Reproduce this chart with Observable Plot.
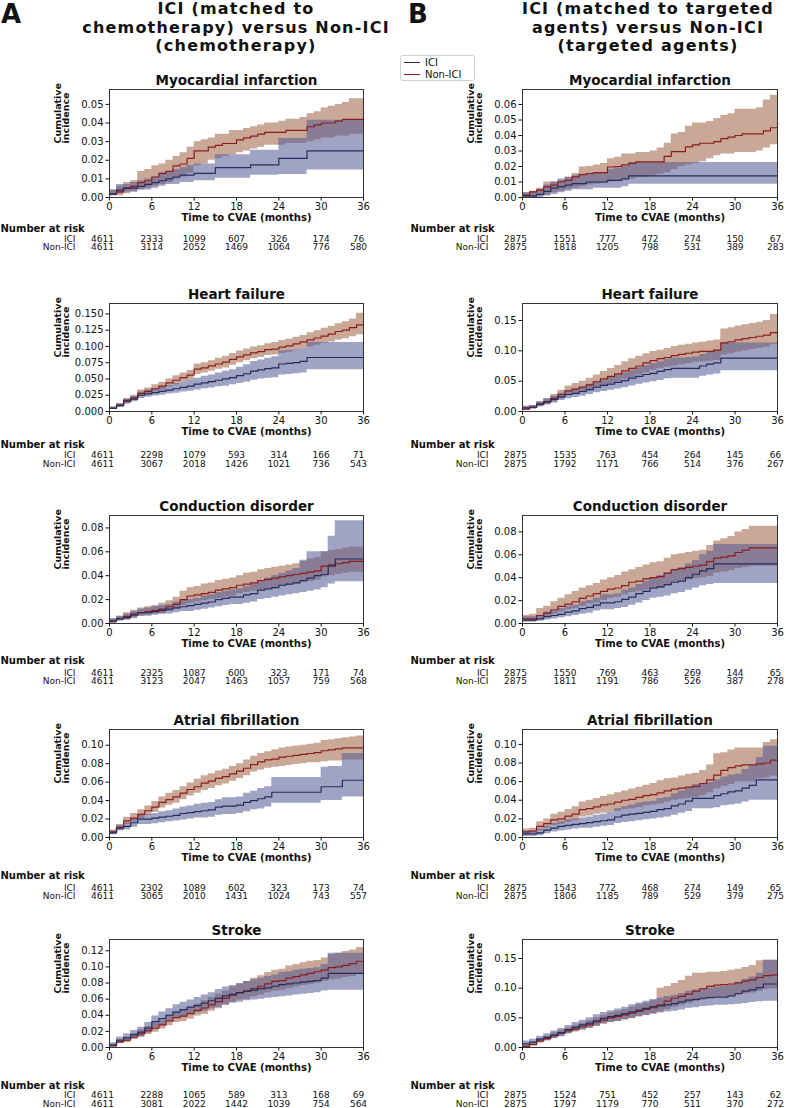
<!DOCTYPE html>
<html><head><meta charset="utf-8">
<script src="https://cdn.jsdelivr.net/npm/d3@7"></script>
<script src="https://cdn.jsdelivr.net/npm/@observablehq/plot@0.6"></script>
<style>
body{margin:0;background:#fff;font-family:"DejaVu Sans",sans-serif;color:#111;}
#root{position:relative;width:786px;height:1108px;overflow:hidden;}
.panel{position:absolute;}
.letter{position:absolute;font-weight:bold;font-size:26px;line-height:28px;}
.tline{position:absolute;font-weight:bold;font-size:16px;letter-spacing:1.2px;line-height:18px;height:18px;text-align:center;width:440px;white-space:nowrap;}
.legend{position:absolute;left:400px;top:55px;width:75px;height:26px;border:1px solid #d0d0d0;border-radius:3px;box-sizing:border-box;}
.legend .lab{position:absolute;left:24px;font-size:10px;line-height:12px;height:12px;white-space:nowrap;}
.legend .sw{position:absolute;left:3px;width:16px;height:0;border-top:1.5px solid;}
</style></head>
<body><div id="root"></div>
<script>
const MONTHS = [0,1,2,3,4,5,6,7,8,9,10,11,12,13,14,15,16,17,18,19,20,21,22,23,24,25,26,27,28,29,30,31,32,33,34,35,36];
const X_TICKS = [0,6,12,18,24,30,36];
const OUTCOMES = ["Myocardial infarction","Heart failure","Conduction disorder","Atrial fibrillation","Stroke"];
const SERIES = ["ICI","Non-ICI"];

// ---- A: Myocardial infarction ----
const A_MI_NON    = [.002,.003,.005,.006,.008,.009,.011,.013,.014,.017,.018,.021,.025,.025,.027,.028,.029,.029,.031,.032,.033,.034,.035,.035,.035,.036,.036,.036,.038,.039,.040,.040,.041,.042,.042,.042,.042];
const A_MI_NON_HI = [.004,.006,.008,.009,.014,.015,.017,.018,.020,.022,.024,.027,.030,.031,.032,.034,.034,.036,.036,.037,.038,.039,.040,.040,.041,.042,.042,.043,.045,.046,.048,.049,.050,.051,.053,.053,.053];
const A_MI_NON_LO = [.001,.001,.002,.003,.004,.005,.006,.007,.008,.010,.011,.013,.017,.018,.020,.021,.022,.023,.024,.025,.026,.027,.028,.028,.028,.029,.029,.029,.030,.031,.032,.032,.033,.033,.034,.034,.034];
const A_MI_ICI    = [.002,.004,.005,.005,.006,.007,.008,.009,.010,.011,.012,.012,.013,.013,.013,.016,.016,.016,.016,.016,.0175,.0175,.0175,.0175,.021,.021,.021,.021,.025,.025,.025,.025,.025,.025,.025,.025,.025];
const A_MI_ICI_HI = [.004,.007,.007,.008,.009,.010,.011,.013,.014,.015,.016,.017,.018,.018,.018,.023,.023,.023,.023,.023,.0254,.0254,.0254,.0254,.0317,.0317,.0317,.0317,.0415,.0415,.0415,.0415,.0415,.0415,.0415,.0415,.0415];
const A_MI_ICI_LO = [.001,.002,.003,.003,.004,.004,.005,.006,.007,.007,.008,.008,.009,.009,.009,.0103,.0103,.0103,.0103,.0103,.012,.012,.012,.012,.0124,.0124,.0124,.0124,.0148,.0148,.0148,.0148,.0148,.0148,.0148,.0148,.0148];
const A_MI_RISK_ICI = [4611,2333,1099,607,326,174,76];
const A_MI_RISK_NON = [4611,3114,2052,1469,1064,776,580];
const A_MI_YTICKS = [0,.01,.02,.03,.04,.05];

// ---- B: Myocardial infarction ----
const B_MI_NON    = [.0015,.0036,.0047,.0068,.008,.010,.011,.0133,.0148,.0155,.016,.016,.0197,.020,.021,.022,.023,.023,.023,.023,.0265,.0296,.0296,.0327,.034,.035,.035,.036,.038,.039,.040,.041,.041,.041,.043,.045,.048];
const B_MI_NON_HI = [.003,.004,.006,.010,.010,.011,.013,.0155,.0197,.020,.021,.022,.025,.026,.028,.028,.029,.029,.030,.032,.035,.041,.042,.046,.048,.048,.049,.051,.053,.054,.057,.057,.057,.058,.063,.066,.066];
const B_MI_NON_LO = [0,0,.001,.0015,.003,.004,.005,.006,.007,.008,.0085,.009,.010,.011,.012,.012,.013,.013,.014,.015,.016,.018,.020,.021,.022,.023,.025,.027,.028,.028,.029,.029,.029,.030,.032,.034,.034];
const B_MI_ICI    = [.001,.001,.002,.004,.006,.007,.008,.009,.009,.010,.010,.010,.011,.011,.012,.014,.014,.014,.014,.014,.014,.014,.014,.014,.014,.014,.014,.014,.014,.014,.014,.014,.014,.014,.014,.014,.014];
const B_MI_ICI_HI = [.003,.003,.005,.008,.010,.012,.013,.014,.015,.015,.016,.016,.018,.019,.020,.0226,.0226,.0226,.0226,.0226,.0226,.0226,.0226,.0226,.0226,.0226,.0226,.0226,.0226,.0226,.0226,.0226,.0226,.0226,.0226,.0226,.0226];
const B_MI_ICI_LO = [0,0,0,.001,.002,.003,.004,.005,.005,.005,.006,.006,.006,.006,.007,.0086,.0086,.0086,.0086,.0086,.0086,.0086,.0086,.0086,.0086,.0086,.0086,.0086,.0086,.0086,.0086,.0086,.0086,.0086,.0086,.0086,.0086];
const B_MI_RISK_ICI = [2875,1551,777,472,274,150,67];
const B_MI_RISK_NON = [2875,1818,1205,798,531,389,283];
const B_MI_YTICKS = [0,.01,.02,.03,.04,.05,.06];

// ---- A: Heart failure ----
const A_HF_NON    = [.005,.010,.017,.021,.028,.031,.035,.039,.044,.048,.052,.056,.065,.067,.070,.073,.076,.080,.084,.087,.090,.092,.095,.096,.099,.101,.104,.107,.110,.113,.116,.119,.123,.125,.129,.133,.133];
const A_HF_NON_HI = [.007,.012,.020,.025,.033,.036,.041,.045,.050,.055,.059,.063,.073,.075,.078,.082,.085,.089,.093,.096,.099,.101,.104,.106,.109,.111,.114,.117,.121,.124,.128,.131,.135,.138,.142,.151,.151];
const A_HF_NON_LO = [.003,.008,.014,.017,.023,.026,.030,.033,.038,.041,.045,.048,.057,.059,.062,.065,.067,.071,.075,.078,.081,.083,.086,.087,.089,.091,.094,.097,.099,.102,.105,.107,.110,.112,.115,.118,.118];
const A_HF_ICI    = [.005,.009,.015,.019,.025,.027,.029,.031,.033,.035,.037,.039,.042,.044,.046,.048,.050,.052,.055,.058,.062,.064,.066,.067,.073,.074,.075,.077,.083,.083,.083,.083,.083,.083,.083,.083,.083];
const A_HF_ICI_HI = [.007,.012,.019,.023,.030,.033,.035,.038,.040,.043,.045,.048,.051,.054,.056,.059,.062,.064,.068,.072,.077,.079,.082,.084,.093,.094,.095,.097,.106,.106,.106,.106,.106,.106,.106,.106,.106];
const A_HF_ICI_LO = [.003,.006,.011,.015,.020,.022,.024,.025,.027,.028,.030,.031,.033,.035,.036,.038,.039,.041,.043,.045,.048,.050,.051,.052,.056,.057,.058,.059,.064,.064,.064,.064,.064,.064,.064,.064,.064];
const A_HF_RISK_ICI = [4611,2298,1079,593,314,166,71];
const A_HF_RISK_NON = [4611,3067,2018,1426,1021,736,543];
const A_HF_YTICKS = [0,.025,.05,.075,.1,.125,.15];

// ---- B: Heart failure ----
const B_HF_NON    = [.004,.007,.012,.016,.022,.028,.034,.037,.040,.044,.049,.054,.058,.062,.067,.071,.075,.080,.084,.087,.089,.092,.094,.096,.098,.099,.099,.101,.113,.115,.118,.120,.122,.124,.126,.130,.133];
const B_HF_NON_HI = [.007,.010,.016,.021,.028,.035,.042,.046,.050,.055,.060,.066,.071,.076,.082,.087,.091,.095,.099,.101,.104,.107,.109,.111,.113,.114,.116,.118,.136,.138,.141,.143,.145,.147,.150,.160,.160];
const B_HF_NON_LO = [.002,.004,.008,.011,.016,.021,.026,.029,.031,.034,.038,.042,.046,.049,.053,.056,.060,.064,.068,.071,.073,.075,.077,.079,.081,.082,.083,.084,.093,.095,.098,.100,.102,.104,.106,.110,.113];
const B_HF_ICI    = [.006,.007,.012,.016,.020,.024,.028,.030,.033,.036,.040,.043,.045,.048,.051,.055,.058,.061,.063,.066,.069,.071,.071,.071,.071,.075,.078,.080,.088,.088,.088,.088,.088,.088,.088,.088,.088];
const B_HF_ICI_HI = [.009,.010,.016,.021,.025,.030,.034,.037,.041,.045,.049,.053,.056,.060,.064,.068,.072,.076,.079,.082,.086,.088,.088,.089,.090,.094,.098,.101,.113,.113,.113,.113,.113,.113,.113,.113,.113];
const B_HF_ICI_LO = [.003,.004,.008,.011,.014,.018,.021,.023,.025,.028,.031,.033,.035,.037,.039,.042,.045,.047,.049,.051,.054,.055,.055,.055,.055,.058,.060,.062,.067,.067,.067,.067,.067,.067,.067,.067,.067];
const B_HF_RISK_ICI = [2875,1535,763,454,264,145,66];
const B_HF_RISK_NON = [2875,1792,1171,766,514,376,267];
const B_HF_YTICKS = [0,.05,.1,.15];

// ---- A: Conduction disorder ----
const A_CD_NON    = [.002,.004,.006,.008,.009,.010,.011,.012,.014,.016,.020,.023,.024,.025,.026,.028,.029,.030,.032,.033,.034,.036,.037,.038,.039,.040,.041,.042,.043,.044,.048,.049,.050,.051,.052,.052,.052];
const A_CD_NON_HI = [.004,.006,.009,.011,.013,.014,.015,.017,.019,.022,.027,.030,.031,.033,.034,.036,.037,.038,.040,.042,.043,.045,.046,.047,.048,.049,.050,.052,.054,.055,.060,.061,.062,.063,.064,.064,.064];
const A_CD_NON_LO = [.001,.002,.003,.005,.006,.007,.008,.008,.010,.012,.015,.017,.018,.019,.020,.021,.022,.023,.025,.026,.027,.028,.029,.030,.031,.032,.033,.034,.035,.036,.039,.040,.041,.042,.043,.043,.043];
const A_CD_ICI    = [.002,.004,.005,.007,.009,.009,.010,.011,.012,.013,.014,.015,.016,.017,.018,.020,.021,.022,.022,.024,.025,.028,.029,.030,.032,.033,.034,.036,.038,.040,.041,.048,.054,.054,.054,.054,.054];
const A_CD_ICI_HI = [.004,.006,.008,.010,.012,.013,.014,.015,.016,.018,.019,.020,.021,.023,.024,.026,.027,.028,.029,.031,.033,.036,.038,.040,.042,.044,.046,.053,.060,.060,.060,.073,.086,.086,.086,.086,.086];
const A_CD_ICI_LO = [0,.002,.003,.004,.006,.006,.007,.008,.008,.009,.010,.010,.011,.012,.013,.014,.015,.016,.016,.017,.018,.020,.021,.022,.023,.024,.025,.026,.027,.028,.030,.033,.035,.035,.035,.035,.035];
const A_CD_RISK_ICI = [4611,2325,1087,600,323,171,74];
const A_CD_RISK_NON = [4611,3123,2047,1463,1057,759,568];
const A_CD_YTICKS = [0,.02,.04,.06,.08];

// ---- B: Conduction disorder ----
const B_CD_NON    = [.004,.004,.007,.009,.012,.015,.017,.019,.022,.024,.026,.028,.030,.031,.033,.036,.037,.039,.040,.041,.044,.047,.048,.049,.050,.051,.054,.057,.058,.059,.062,.064,.066,.066,.066,.066,.066];
const B_CD_NON_HI = [.007,.008,.013,.015,.019,.022,.025,.028,.031,.033,.035,.038,.040,.042,.045,.047,.049,.051,.053,.054,.057,.060,.061,.062,.063,.064,.068,.072,.074,.076,.080,.082,.085,.085,.085,.085,.085];
const B_CD_NON_LO = [.002,.002,.004,.006,.008,.010,.012,.013,.015,.017,.018,.020,.022,.023,.025,.027,.028,.029,.030,.031,.033,.036,.037,.038,.039,.040,.041,.044,.045,.046,.048,.049,.050,.050,.050,.050,.050];
const B_CD_ICI    = [.003,.003,.004,.006,.007,.008,.010,.011,.013,.014,.016,.018,.018,.019,.021,.023,.026,.028,.031,.032,.034,.036,.037,.040,.043,.046,.048,.052,.052,.052,.052,.052,.052,.052,.052,.052,.052];
const B_CD_ICI_HI = [.006,.006,.007,.010,.011,.013,.015,.016,.019,.020,.022,.025,.025,.026,.029,.031,.034,.037,.040,.042,.044,.047,.049,.052,.055,.060,.063,.069,.069,.069,.069,.069,.069,.069,.069,.069,.069];
const B_CD_ICI_LO = [.001,.001,.002,.003,.004,.005,.006,.007,.008,.009,.011,.012,.012,.013,.014,.016,.018,.020,.022,.023,.024,.026,.027,.029,.031,.033,.034,.035,.035,.035,.035,.035,.035,.035,.035,.035,.035];
const B_CD_RISK_ICI = [2875,1550,769,463,269,144,65];
const B_CD_RISK_NON = [2875,1811,1191,786,526,387,278];
const B_CD_YTICKS = [0,.02,.04,.06,.08];

// ---- A: Atrial fibrillation ----
const A_AF_NON    = [.006,.011,.018,.021,.025,.029,.033,.038,.041,.044,.048,.052,.055,.059,.061,.064,.066,.069,.072,.075,.079,.082,.084,.085,.087,.088,.089,.090,.091,.092,.094,.095,.096,.097,.097,.097,.097];
const A_AF_NON_HI = [.008,.014,.022,.026,.030,.034,.039,.044,.048,.051,.055,.059,.063,.067,.069,.072,.074,.077,.080,.084,.088,.091,.093,.095,.097,.098,.099,.100,.101,.102,.105,.106,.107,.108,.109,.110,.111];
const A_AF_NON_LO = [.004,.008,.014,.017,.020,.024,.027,.032,.035,.037,.041,.045,.048,.051,.053,.056,.058,.061,.064,.067,.071,.073,.075,.076,.077,.078,.079,.080,.081,.081,.082,.083,.083,.084,.084,.084,.084];
const A_AF_ICI    = [.005,.010,.012,.016,.020,.020,.021,.022,.023,.024,.026,.027,.028,.029,.030,.033,.034,.034,.035,.038,.040,.042,.044,.049,.049,.049,.049,.049,.049,.049,.055,.055,.055,.062,.062,.062,.062];
const A_AF_ICI_HI = [.007,.013,.016,.020,.025,.025,.026,.028,.029,.031,.033,.034,.036,.037,.038,.041,.043,.043,.044,.048,.050,.053,.055,.065,.065,.065,.065,.065,.065,.065,.076,.077,.077,.091,.091,.091,.091];
const A_AF_ICI_LO = [.003,.007,.008,.011,.014,.014,.015,.016,.017,.018,.019,.020,.021,.021,.022,.024,.025,.025,.026,.028,.030,.031,.033,.037,.037,.037,.037,.037,.037,.037,.040,.040,.040,.044,.044,.044,.044];
const A_AF_RISK_ICI = [4611,2302,1089,602,323,173,74];
const A_AF_RISK_NON = [4611,3065,2010,1431,1024,743,557];
const A_AF_YTICKS = [0,.02,.04,.06,.08,.10];

// ---- B: Atrial fibrillation ----
const B_AF_NON    = [.006,.007,.012,.015,.019,.020,.023,.025,.030,.031,.033,.035,.036,.038,.040,.041,.043,.045,.046,.048,.050,.052,.053,.054,.055,.058,.062,.067,.072,.075,.077,.078,.078,.079,.080,.083,.083];
const B_AF_NON_HI = [.009,.010,.017,.020,.025,.027,.030,.033,.038,.040,.042,.044,.046,.048,.050,.052,.054,.056,.058,.061,.063,.064,.066,.068,.069,.072,.078,.090,.091,.094,.096,.096,.096,.096,.102,.105,.105];
const B_AF_NON_LO = [.003,.004,.007,.010,.013,.014,.016,.018,.022,.023,.025,.026,.027,.028,.030,.031,.032,.034,.035,.036,.038,.040,.041,.042,.043,.045,.048,.052,.055,.057,.060,.060,.060,.063,.064,.066,.066];
const B_AF_ICI    = [.004,.004,.005,.008,.010,.012,.013,.014,.015,.016,.017,.018,.019,.022,.024,.025,.026,.027,.028,.030,.031,.034,.036,.039,.042,.042,.042,.045,.047,.049,.050,.053,.056,.062,.062,.062,.062];
const B_AF_ICI_HI = [.007,.007,.009,.012,.015,.017,.019,.020,.021,.022,.024,.025,.027,.031,.033,.035,.037,.038,.039,.042,.043,.047,.050,.053,.057,.058,.059,.062,.065,.067,.068,.073,.077,.086,.098,.098,.098];
const B_AF_ICI_LO = [.001,.001,.002,.004,.006,.007,.008,.009,.010,.010,.011,.012,.013,.015,.016,.017,.018,.019,.020,.021,.022,.024,.026,.028,.031,.031,.031,.032,.034,.035,.036,.038,.040,.040,.040,.040,.040];
const B_AF_RISK_ICI = [2875,1543,772,468,274,149,65];
const B_AF_RISK_NON = [2875,1806,1185,789,529,379,275];
const B_AF_YTICKS = [0,.02,.04,.06,.08,.10];

// ---- A: Stroke ----
const A_ST_NON    = [.002,.007,.009,.013,.017,.021,.024,.028,.033,.037,.039,.042,.046,.049,.053,.057,.061,.065,.068,.070,.073,.076,.079,.082,.083,.086,.088,.090,.092,.094,.096,.099,.100,.102,.104,.107,.108];
const A_ST_NON_HI = [.004,.010,.013,.017,.022,.026,.030,.034,.040,.044,.047,.050,.054,.058,.062,.066,.070,.075,.079,.082,.086,.089,.093,.096,.097,.101,.103,.105,.107,.108,.111,.115,.117,.119,.121,.124,.124];
const A_ST_NON_LO = [.001,.005,.006,.010,.013,.016,.019,.023,.027,.031,.032,.035,.039,.041,.045,.048,.052,.056,.059,.060,.063,.065,.068,.070,.071,.073,.075,.077,.078,.080,.082,.084,.085,.087,.088,.091,.092];
const A_ST_ICI    = [.003,.009,.012,.016,.019,.024,.032,.036,.040,.044,.047,.050,.052,.055,.058,.061,.064,.066,.068,.070,.071,.073,.074,.076,.078,.079,.080,.081,.082,.083,.086,.092,.092,.092,.092,.092,.092];
const A_ST_ICI_HI = [.006,.013,.017,.021,.025,.031,.039,.044,.048,.053,.056,.059,.062,.065,.068,.072,.075,.077,.079,.082,.084,.086,.088,.090,.093,.094,.096,.097,.098,.099,.103,.117,.117,.117,.117,.117,.117];
const A_ST_ICI_LO = [.001,.005,.008,.011,.013,.018,.025,.028,.032,.036,.038,.041,.043,.045,.048,.050,.053,.055,.056,.058,.059,.060,.061,.062,.063,.064,.065,.066,.067,.068,.070,.071,.071,.071,.071,.071,.071];
const A_ST_RISK_ICI = [4611,2288,1065,589,313,168,69];
const A_ST_RISK_NON = [4611,3081,2022,1442,1039,754,564];
const A_ST_YTICKS = [0,.02,.04,.06,.08,.10,.12];

// ---- B: Stroke ----
const B_ST_NON    = [.002,.005,.011,.015,.020,.024,.028,.031,.035,.038,.043,.046,.050,.052,.055,.058,.061,.064,.067,.072,.078,.083,.086,.090,.095,.099,.103,.105,.106,.107,.109,.112,.114,.118,.121,.122,.122];
const B_ST_NON_HI = [.004,.008,.015,.019,.025,.029,.033,.037,.041,.045,.050,.054,.058,.061,.064,.068,.072,.075,.079,.100,.103,.108,.113,.120,.125,.125,.127,.127,.128,.130,.132,.135,.138,.146,.147,.147,.147];
const B_ST_NON_LO = [.001,.003,.007,.011,.015,.019,.023,.026,.029,.032,.036,.039,.042,.044,.046,.049,.052,.054,.056,.060,.064,.068,.071,.074,.077,.080,.083,.085,.086,.087,.088,.090,.092,.095,.098,.099,.099];
const B_ST_ICI    = [.006,.009,.014,.017,.021,.025,.030,.034,.038,.041,.045,.049,.052,.054,.057,.060,.063,.066,.069,.070,.072,.074,.077,.080,.081,.083,.084,.085,.085,.087,.091,.095,.097,.101,.107,.107,.107];
const B_ST_ICI_HI = [.011,.014,.019,.023,.028,.032,.037,.042,.046,.050,.055,.059,.062,.065,.068,.072,.075,.078,.081,.083,.086,.088,.091,.095,.097,.099,.100,.102,.103,.105,.110,.115,.119,.125,.147,.147,.147];
const B_ST_ICI_LO = [.002,.005,.009,.012,.015,.018,.023,.027,.030,.033,.036,.040,.042,.044,.047,.049,.052,.054,.057,.058,.060,.061,.063,.066,.067,.069,.070,.071,.071,.072,.073,.074,.076,.077,.078,.078,.078];
const B_ST_RISK_ICI = [2875,1524,751,452,257,143,62];
const B_ST_RISK_NON = [2875,1797,1179,770,511,370,272];
const B_ST_YTICKS = [0,.05,.1,.15];

// ---- styling ----
const ICI_LINE = "#232c5c", NON_LINE = "#8c1c1c";
const ICI_FILL = "#525a94", NON_FILL = "#9d6144";

const root = document.getElementById("root");
const TITLE_A = ["ICI (matched to","chemotherapy) versus Non-ICI","(chemotherapy)"];
const TITLE_B = ["ICI (matched to targeted","agents) versus Non-ICI","(targeted agents)"];
let html = `<div class="letter" style="left:1px;top:0px">A</div><div class="letter" style="left:408px;top:0px">B</div>`;
TITLE_A.forEach((s,i)=>{ html += `<div class="tline" style="left:16px;top:${i*18.5}px">${s}</div>`; });
TITLE_B.forEach((s,i)=>{ html += `<div class="tline" style="left:428px;top:${i*18.5}px">${s}</div>`; });
html += `<div class="legend">
 <div class="sw" style="top:6px;border-color:${ICI_LINE}"></div><div class="lab" style="top:1px">${SERIES[0]}</div>
 <div class="sw" style="top:18px;border-color:${NON_LINE}"></div><div class="lab" style="top:13px">${SERIES[1]}</div>
</div>`;
root.insertAdjacentHTML("beforeend", html);

const FRAME_TOPS = [89, 303, 515, 729, 939];
const NR_DY  = [31, 33, 37, 38, 38];
const ICI_DY = [42, 44, 50, 51, 48];
const NON_DY = [50, 53, 58, 59, 57];
const MT = 22, FH = 108, MB = 66;

const panels = [
  {col:0,row:0,title:OUTCOMES[0],ici:[A_MI_ICI,A_MI_ICI_LO,A_MI_ICI_HI],non:[A_MI_NON,A_MI_NON_LO,A_MI_NON_HI],risk:[A_MI_RISK_ICI,A_MI_RISK_NON],yt:A_MI_YTICKS,ymax:.058,fmt:".2f"},
  {col:1,row:0,title:OUTCOMES[0],ici:[B_MI_ICI,B_MI_ICI_LO,B_MI_ICI_HI],non:[B_MI_NON,B_MI_NON_LO,B_MI_NON_HI],risk:[B_MI_RISK_ICI,B_MI_RISK_NON],yt:B_MI_YTICKS,ymax:.0697,fmt:".2f"},
  {col:0,row:1,title:OUTCOMES[1],ici:[A_HF_ICI,A_HF_ICI_LO,A_HF_ICI_HI],non:[A_HF_NON,A_HF_NON_LO,A_HF_NON_HI],risk:[A_HF_RISK_ICI,A_HF_RISK_NON],yt:A_HF_YTICKS,ymax:.166,fmt:".3f"},
  {col:1,row:1,title:OUTCOMES[1],ici:[B_HF_ICI,B_HF_ICI_LO,B_HF_ICI_HI],non:[B_HF_NON,B_HF_NON_LO,B_HF_NON_HI],risk:[B_HF_RISK_ICI,B_HF_RISK_NON],yt:B_HF_YTICKS,ymax:.178,fmt:".2f"},
  {col:0,row:2,title:OUTCOMES[2],ici:[A_CD_ICI,A_CD_ICI_LO,A_CD_ICI_HI],non:[A_CD_NON,A_CD_NON_LO,A_CD_NON_HI],risk:[A_CD_RISK_ICI,A_CD_RISK_NON],yt:A_CD_YTICKS,ymax:.0904,fmt:".2f"},
  {col:1,row:2,title:OUTCOMES[2],ici:[B_CD_ICI,B_CD_ICI_LO,B_CD_ICI_HI],non:[B_CD_NON,B_CD_NON_LO,B_CD_NON_HI],risk:[B_CD_RISK_ICI,B_CD_RISK_NON],yt:B_CD_YTICKS,ymax:.0943,fmt:".2f"},
  {col:0,row:3,title:OUTCOMES[3],ici:[A_AF_ICI,A_AF_ICI_LO,A_AF_ICI_HI],non:[A_AF_NON,A_AF_NON_LO,A_AF_NON_HI],risk:[A_AF_RISK_ICI,A_AF_RISK_NON],yt:A_AF_YTICKS,ymax:.117,fmt:".2f"},
  {col:1,row:3,title:OUTCOMES[3],ici:[B_AF_ICI,B_AF_ICI_LO,B_AF_ICI_HI],non:[B_AF_NON,B_AF_NON_LO,B_AF_NON_HI],risk:[B_AF_RISK_ICI,B_AF_RISK_NON],yt:B_AF_YTICKS,ymax:.116,fmt:".2f"},
  {col:0,row:4,title:OUTCOMES[4],ici:[A_ST_ICI,A_ST_ICI_LO,A_ST_ICI_HI],non:[A_ST_NON,A_ST_NON_LO,A_ST_NON_HI],risk:[A_ST_RISK_ICI,A_ST_RISK_NON],yt:A_ST_YTICKS,ymax:.134,fmt:".2f"},
  {col:1,row:4,title:OUTCOMES[4],ici:[B_ST_ICI,B_ST_ICI_LO,B_ST_ICI_HI],non:[B_ST_NON,B_ST_NON_LO,B_ST_NON_HI],risk:[B_ST_RISK_ICI,B_ST_RISK_NON],yt:B_ST_YTICKS,ymax:.182,fmt:".2f"}
];

function series(arrs){ return MONTHS.map((t,i)=>({t, est: arrs[0][i], lo: arrs[1][i], hi: arrs[2][i]})); }

for (const p of panels) {
  const ici = series(p.ici), non = series(p.non);
  const risk = X_TICKS.map((t,i)=>({t, i, ici: String(p.risk[0][i]), non: String(p.risk[1][i])}));
  const first = risk.filter(d=>d.i===0), mid = risk.filter(d=>d.i>0 && d.i<6), last = risk.filter(d=>d.i===6);
  const ml = p.col === 0 ? 109 : 129, mr = p.col === 0 ? 30 : 9;
  const r = p.row;
  const txt = {fontSize: 9, lineAnchor: "middle", fill: "#111"};
  const riskMarks = [];
  for (const [key, dy] of [["ici", ICI_DY[r]], ["non", NON_DY[r]]]) {
    riskMarks.push(Plot.text(first, {...txt, x:"t", text: d => d[key], frameAnchor:"bottom", dy, dx:-7}));
    riskMarks.push(Plot.text(mid,   {...txt, x:"t", text: d => d[key], frameAnchor:"bottom", dy}));
    riskMarks.push(Plot.text(last,  {...txt, x:"t", text: d => d[key], frameAnchor:"bottom", dy, dx:p.col===0?-5:-2}));
  }
  const chart = Plot.plot({
    width: 393, height: MT + FH + MB,
    marginLeft: ml, marginRight: mr, marginTop: MT, marginBottom: MB,
    x: {domain: [0, 36]},
    y: {domain: [0, p.ymax]},
    style: {fontFamily: "DejaVu Sans", fontSize: "10px", color: "#111", background: "transparent", overflow: "visible"},
    marks: [
      Plot.areaY(non, {x:"t", y1:"lo", y2:"hi", curve:"step-after", fill: NON_FILL, fillOpacity: 0.55}),
      Plot.areaY(ici, {x:"t", y1:"lo", y2:"hi", curve:"step-after", fill: ICI_FILL, fillOpacity: 0.55}),
      Plot.line(non, {x:"t", y:"est", curve:"step-after", stroke: NON_LINE, strokeWidth: 1.2}),
      Plot.line(ici, {x:"t", y:"est", curve:"step-after", stroke: ICI_LINE, strokeWidth: 1.2}),
      Plot.frame({stroke: "#333", strokeWidth: 1}),
      Plot.axisX({ticks: X_TICKS, tickSize: 3.5, tickPadding: 1.5, label: null, tickFormat: d => String(d)}),
      Plot.axisY({ticks: p.yt, tickSize: 3.5, tickPadding: 2.5, label: null, tickFormat: d3.format(p.fmt)}),
      Plot.text([p.title], {frameAnchor: "top", dy: -9, lineAnchor: "middle", fontWeight: "bold", fontSize: 13.5, fill: "#111"}),
      Plot.text(["Cumulative\nincidence"], {frameAnchor: "left", dx: -47, rotate: -90, lineAnchor: "middle", lineHeight: 0.8, fontWeight: "bold", fontSize: 9.5, fill: "#111"}),
      Plot.text(["Time to CVAE (months)"], {frameAnchor: "bottom", dy: 20, dx: 10, lineAnchor: "middle", fontWeight: "bold", fontSize: 10, fill: "#111"}),
      Plot.text(["Number at risk"], {frameAnchor: "bottom-left", dx: p.col === 0 ? -109 : -112, dy: NR_DY[r], textAnchor: "start", lineAnchor: "middle", fontWeight: "bold", fontSize: 10, fill: "#111"}),
      Plot.text([SERIES[0]], {...txt, frameAnchor: "bottom-left", dx: -34, dy: ICI_DY[r], textAnchor: "end"}),
      Plot.text([SERIES[1]], {...txt, frameAnchor: "bottom-left", dx: -34, dy: NON_DY[r], textAnchor: "end"}),
      ...riskMarks
    ]
  });
  const div = document.createElement("div");
  div.className = "panel";
  div.style.left = (p.col === 0 ? 0 : 393) + "px";
  div.style.top = (FRAME_TOPS[r] - MT) + "px";
  div.appendChild(chart);
  root.appendChild(div);
}
</script>
</body></html>
